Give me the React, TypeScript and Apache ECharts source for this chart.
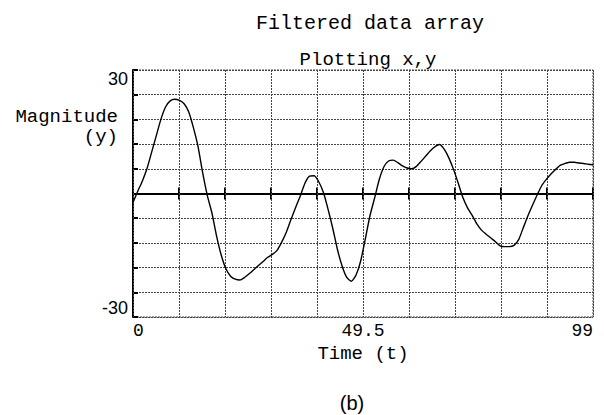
import React, { useEffect, useRef } from "react";
import * as echarts from "echarts";

const TITLE = "Filtered data array";
const SUBTITLE = "Plotting x,y";
const Y_NAME_LINES = ["Magnitude", "(y)"];
const X_NAME = "Time (t)";
const CAPTION = "(b)";
const X_TICK_LABELS = ["0", "49.5", "99"];
const Y_TICK_LABELS = ["-30", "30"];

const magnitude = [
  -2.2, 0.5, 3, 6, 10, 14, 18, 21, 22.5, 22.9,
  22.6, 21.8, 19.8, 16, 11.4, 5, -0.5, -4.8, -10.4, -15,
  -18.3, -20.1, -20.8, -21, -20.4, -19.5, -18.5, -17.5, -16.5, -15.5,
  -14.8, -13.8, -11.8, -9.4, -6.3, -3.4, -0.6, 2.5, 4.2, 4.3,
  2.8, 0.2, -3.9, -8.5, -13.6, -17.6, -20.4, -21.3, -19.8, -16.4,
  -11, -5.4, -1.1, 3.4, 6.5, 7.9, 8.1, 7.5, 6.7, 6.2,
  6, 6.6, 7.8, 9.1, 10.4, 11.4, 11.9, 10.7, 8.6, 5.8,
  2.5, -1, -3.5, -5.3, -7.4, -8.9, -9.9, -10.8, -11.7, -12.7,
  -12.9, -12.9, -12.6, -11.2, -8.3, -5.4, -2.8, -0.3, 2, 3.5,
  4.8, 5.9, 6.9, 7.3, 7.6, 7.6, 7.4, 7.3, 7.1, 7,
];
const time = magnitude.map((_, i) => i);

const MONO = "'Liberation Mono', 'DejaVu Sans Mono', monospace";
const SANS = "'Liberation Sans', Arial, sans-serif";

const labelFor = (list: string[]) => (v: number) => {
  const hit = list.find((s) => Math.abs(Number(s) - v) < 1e-6);
  return hit ?? "";
};

export default function App() {
  const ref = useRef<HTMLDivElement>(null);
  useEffect(() => {
    if (!ref.current) return;
    const chart = echarts.init(ref.current, undefined, { renderer: "svg" });
    const xMin = time[0];
    const xMax = time[time.length - 1];
    const xInterval = (xMax - xMin) / 10;
    const grid = { left: 133, right: 11, top: 70, bottom: 98 };
    const gridLine = { color: "#444", width: 1, type: [2, 1] as any };
    chart.setOption({
      animation: false,
      backgroundColor: "#fff",
      title: [
        {
          text: TITLE,
          left: 365,
          top: 8,
          textAlign: "center",
          textStyle: { fontFamily: MONO, fontSize: 20, fontWeight: "normal", color: "#000" },
        },
        {
          text: SUBTITLE,
          left: 363,
          top: 45,
          textAlign: "center",
          textStyle: { fontFamily: MONO, fontSize: 19, fontWeight: "normal", color: "#000" },
        },
      ],
      grid: {
        ...grid,
        show: true,
        borderColor: "#444",
        borderWidth: 1,
        borderType: [2, 1],
      },
      xAxis: [
        {
          type: "value",
          min: xMin,
          max: xMax,
          interval: xInterval,
          position: "bottom",
          axisLine: { onZero: false, show: false },
          axisTick: { show: false },
          splitLine: { show: true, lineStyle: gridLine },
          axisLabel: {
            formatter: labelFor(X_TICK_LABELS),
            fontFamily: MONO,
            fontSize: 18,
            color: "#000",
            margin: 5,
            alignMinLabel: "left",
            alignMaxLabel: "right",
            showMinLabel: true,
            showMaxLabel: true,
            hideOverlap: false,
          },
          name: X_NAME,
          nameLocation: "middle",
          nameGap: 25,
          nameTextStyle: { fontFamily: MONO, fontSize: 19, color: "#000" },
          z: 1,
        },
        {
          type: "value",
          min: xMin,
          max: xMax,
          interval: xInterval,
          axisLine: { onZero: true, onZeroAxisIndex: 0, show: true, lineStyle: { color: "#000", width: 2 } },
          axisTick: { show: true, inside: true, length: 6, lineStyle: { color: "#000", width: 2 } },
          axisLabel: { show: false },
          splitLine: { show: false },
        },
        {
          type: "value",
          min: xMin,
          max: xMax,
          interval: xInterval,
          axisLine: { onZero: true, onZeroAxisIndex: 0, show: false },
          axisTick: { show: true, inside: false, length: 6, lineStyle: { color: "#000", width: 2 } },
          axisLabel: { show: false },
          splitLine: { show: false },
        },
      ],
      yAxis: {
        type: "value",
        min: -30,
        max: 30,
        interval: 6,
        axisLine: { show: true, onZero: false, lineStyle: { color: "#000", width: 2 } },
        axisTick: { show: true, inside: true, length: 5, lineStyle: { color: "#000", width: 2 } },
        splitLine: { show: true, lineStyle: gridLine },
        axisLabel: {
          formatter: labelFor(Y_TICK_LABELS),
          fontFamily: SANS,
          fontSize: 18,
          color: "#000",
          margin: 5,
          verticalAlignMinLabel: "bottom",
          verticalAlignMaxLabel: "top",
          showMinLabel: true,
          showMaxLabel: true,
        },
      },
      graphic: [
        {
          type: "text",
          x: 118,
          y: 117,
          style: {
            text: Y_NAME_LINES[0],
            font: `19px ${MONO}`,
            fill: "#000",
            textAlign: "right",
            textVerticalAlign: "middle",
          },
        },
        {
          type: "text",
          x: 118,
          y: 137,
          style: {
            text: Y_NAME_LINES[1],
            font: `19px ${MONO}`,
            fill: "#000",
            textAlign: "right",
            textVerticalAlign: "middle",
          },
        },
        {
          type: "text",
          x: 352,
          y: 403,
          style: {
            text: CAPTION,
            font: `20px ${SANS}`,
            fill: "#000",
            textAlign: "center",
            textVerticalAlign: "middle",
          },
        },
      ],
      series: [
        {
          type: "line",
          xAxisIndex: 0,
          data: time.map((t, i) => [t, magnitude[i]]),
          showSymbol: false,
          smooth: 0.2,
          lineStyle: { color: "#000", width: 1.4 },
          z: 5,
        },
      ],
    });
    return () => chart.dispose();
  }, []);
  return (
    <div
      ref={ref}
      style={{ position: "fixed", left: 0, top: 0, width: 604, height: 415 }}
    />
  );
}
